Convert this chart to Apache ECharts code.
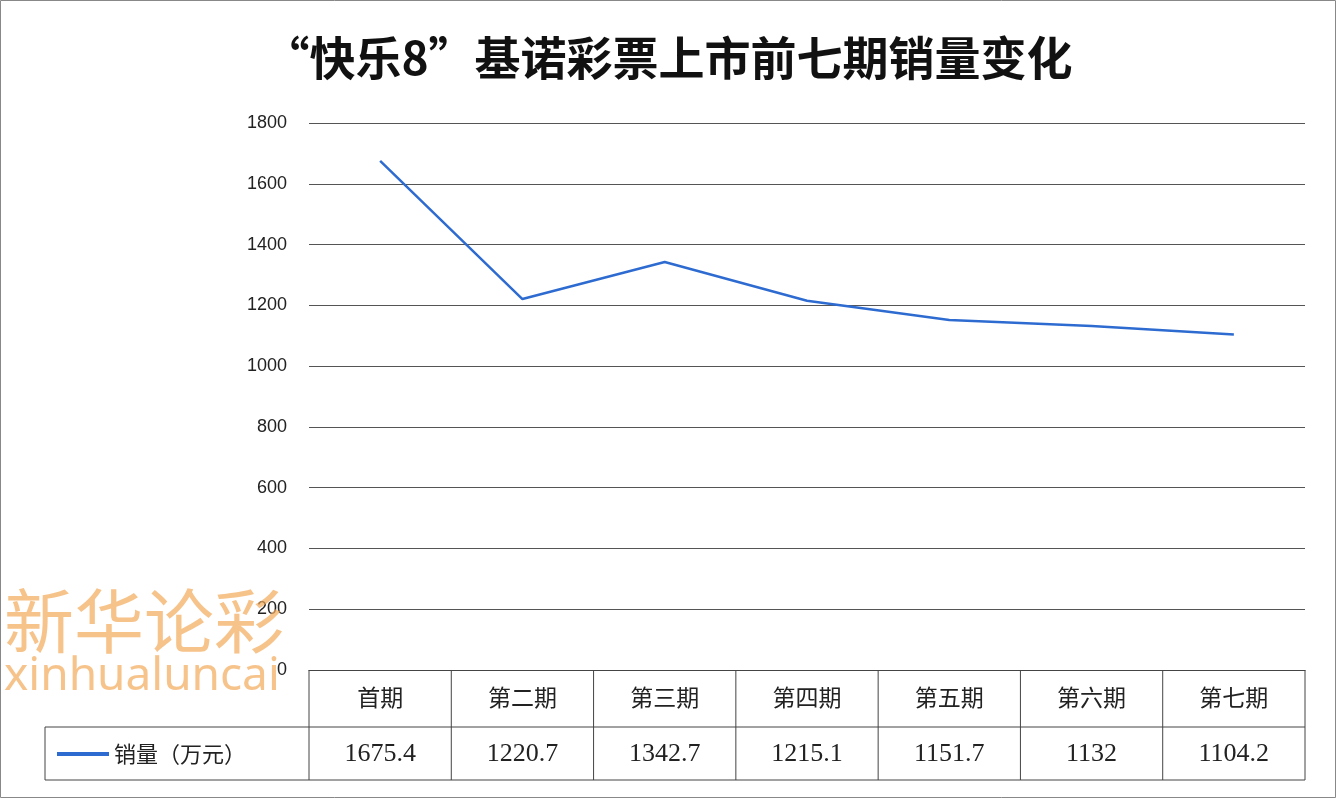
<!DOCTYPE html>
<html><head><meta charset="utf-8">
<script src="https://cdn.jsdelivr.net/npm/echarts@6/dist/echarts.min.js"></script>
<style>html,body{margin:0;padding:0;background:#fff}#c{width:1336px;height:798px}</style>
</head><body><div id="c"></div>
<script>
const categories = ["首期","第二期","第三期","第四期","第五期","第六期","第七期"];
const sales = [1675.4,1220.7,1342.7,1215.1,1151.7,1132,1104.2];
const seriesName = "销量（万元）";
const titleText = "“快乐8”基诺彩票上市前七期销量变化";

const W=1336,H=798,GL=309,GR=1305,GT=123,GB=670,ROW1=727,ROW2=780,TL=45;
const chart = echarts.init(document.getElementById('c'));
const g=[];
const line=(x1,y1,x2,y2)=>g.push({type:'line',shape:{x1,y1,x2,y2},style:{stroke:'#444',lineWidth:1},silent:true});
g.push({type:'rect',shape:{x:0.5,y:0.5,width:W-1,height:H-1},style:{fill:'none',stroke:'#888',lineWidth:1}});
line(TL,ROW1,GR,ROW1);line(TL,ROW2,GR,ROW2);
line(TL,ROW1,TL,ROW2);
const cw=(GR-GL)/categories.length;
for(let k=0;k<=categories.length;k++){line(GL+k*cw,GB,GL+k*cw,ROW2);}
g.push({type:'text',left:4,top:586,style:{text:'新华论彩',fill:'rgba(242,170,90,0.7)',font:'70px "Noto Sans CJK SC"'},z:10});
g.push({type:'text',left:4,top:654,style:{text:'xinhualuncai',fill:'rgba(242,170,90,0.7)',font:'46px "Noto Sans"'},z:10});
chart.setOption({
  animation:false,
  title:{text:titleText,left:'center',top:30,textStyle:{fontFamily:'Noto Sans CJK SC',fontWeight:'bold',fontSize:46,color:'#111'}},
  grid:{left:GL,right:W-GR,top:GT,bottom:H-GB},
  legend:{left:52,top:738,itemWidth:52,itemHeight:4,icon:'rect',itemGap:10,
    textStyle:{fontFamily:'Noto Sans CJK SC',fontSize:22,color:'#222'},data:[seriesName]},
  xAxis:[
    {type:'category',data:categories,boundaryGap:true,position:'bottom',
     axisLine:{lineStyle:{color:'#444'}},axisTick:{show:false},
     axisLabel:{margin:16,fontFamily:'Noto Sans CJK SC',fontSize:23,color:'#222'}},
    {type:'category',data:sales.map(String),boundaryGap:true,position:'bottom',offset:57,
     axisLine:{show:false},axisTick:{show:false},
     axisLabel:{margin:14,fontFamily:'Liberation Serif',fontSize:26,color:'#222'}}
  ],
  yAxis:{type:'value',min:0,max:1800,interval:200,
    axisLine:{show:false},axisTick:{show:false},
    axisLabel:{margin:22,fontFamily:'Liberation Sans',fontSize:18,color:'#222',formatter:v=>String(v)},
    splitLine:{lineStyle:{color:'#555',width:1}}},
  series:[{name:seriesName,type:'line',data:sales,xAxisIndex:0,symbol:'none',
    lineStyle:{color:'#2E6BD1',width:2.5},itemStyle:{color:'#2E6BD1'}}],
  graphic:g
});
</script></body></html>
